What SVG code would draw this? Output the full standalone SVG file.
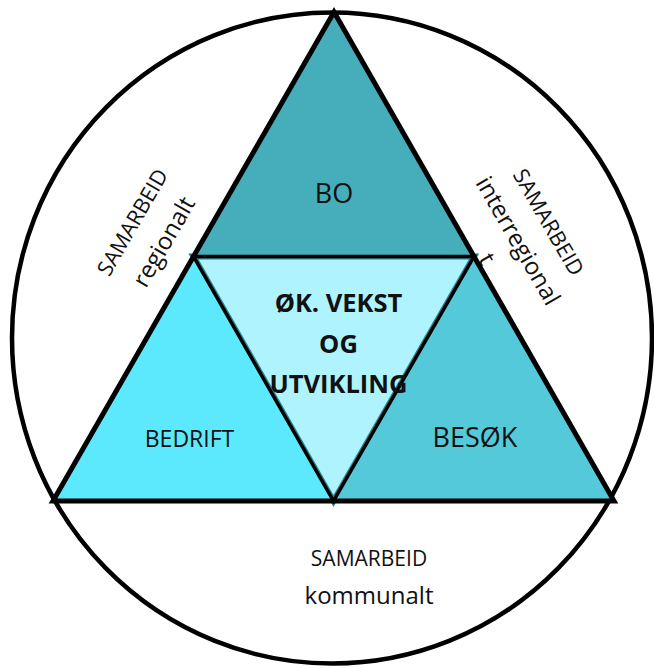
<svg xmlns="http://www.w3.org/2000/svg" width="654" height="668" viewBox="0 0 654 668">
<style>
text{font-family:"Open Sans","Liberation Sans",sans-serif;fill:#111;text-anchor:middle}
.b{font-weight:bold}
.edge{stroke:#000;fill:none;stroke-linejoin:miter}
</style>
<rect width="654" height="668" fill="#fff"/>
<g id="circle">
<ellipse cx="332" cy="338" rx="320" ry="325.5" fill="#fff" stroke="#000" stroke-width="4.5"/>
</g>
<g id="center">
<polygon points="193.5,256.5 474,256.5 333.5,501" fill="#AEF3FD" stroke="#2E7F8C" stroke-width="6"/>
</g>
<g id="bo">
<polygon points="334,12 474,256.5 193.5,256.5" fill="#46ADBB"/>
<text x="334" y="203" font-size="27">BO</text>
</g>
<g id="bedrift">
<polygon points="193.5,256.5 333.5,501 53,501" fill="#5DE9FD"/>
<text x="189.5" y="447" font-size="23">BEDRIFT</text>
</g>
<g id="besok">
<polygon points="474,256.5 614,501 333.5,501" fill="#54C9DA"/>
<text x="475" y="447" font-size="27">BESØK</text>
</g>
<g id="connectors">
<polygon class="edge" points="334,12 614,501 53,501" stroke-width="5"/>
<polygon class="edge" points="193.5,256.5 474,256.5 333.5,501" stroke-width="3.5"/>
</g>
<g id="center-label">
<text class="b" x="338.5" y="312" font-size="25.5">ØK. VEKST</text>
<text class="b" x="338.5" y="353" font-size="25.5">OG</text>
<text class="b" x="338.5" y="393" font-size="25.5">UTVIKLING</text>
</g>
<g id="regionalt">
<text x="139" y="226" font-size="21.5" transform="rotate(-60 139 226)">SAMARBEID</text>
<text x="171" y="246" font-size="24" transform="rotate(-60 171 246)">regionalt</text>
</g>
<g id="interregionalt">
<text x="542" y="226" font-size="21.5" transform="rotate(60 542 226)">SAMARBEID</text>
<text x="511" y="245" font-size="24" transform="rotate(60 511 245)">interregional</text>
<text x="480" y="263" font-size="24" transform="rotate(60 480 263)">t</text>
</g>
<g id="kommunalt">
<text x="369" y="566" font-size="21">SAMARBEID</text>
<text x="369" y="604" font-size="24">kommunalt</text>
</g>
</svg>
